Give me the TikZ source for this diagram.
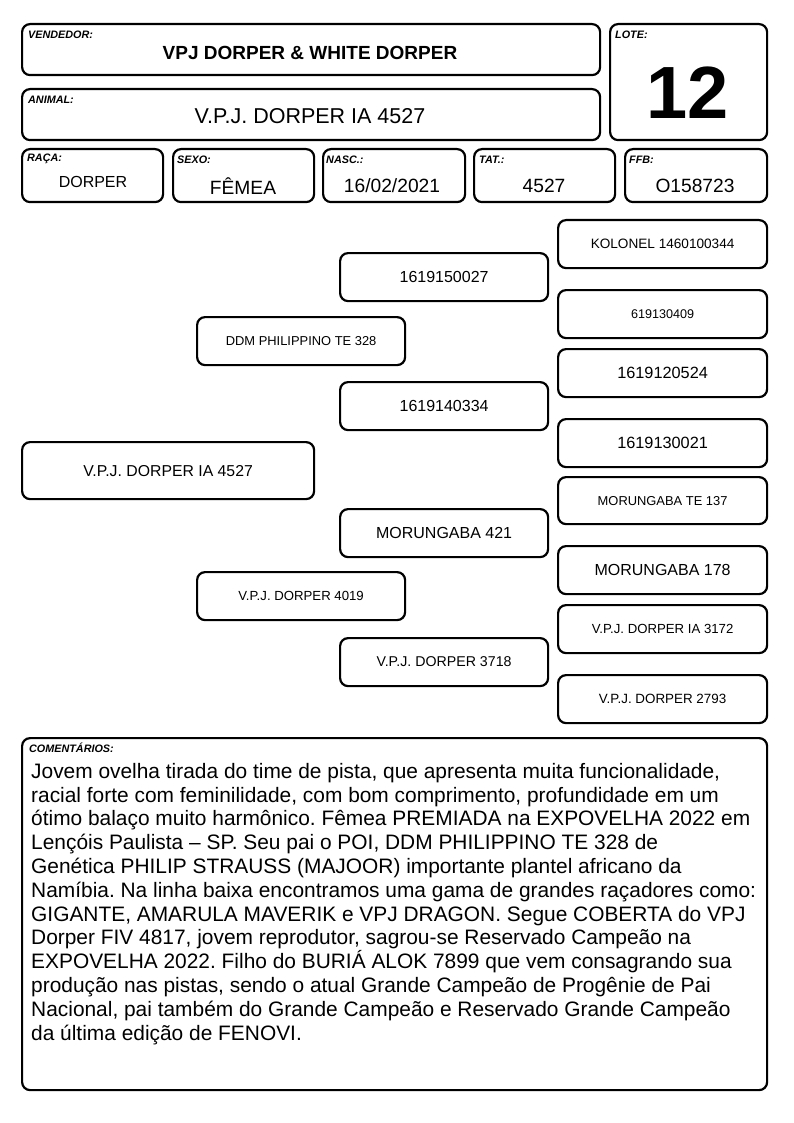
\documentclass[tikz,border=0pt]{standalone}
\usepackage{fontspec}
\setmainfont{Liberation Sans}
\frenchspacing
\begin{document}
\begin{tikzpicture}[x=1pt,y=-1pt,
  frame/.style={draw, line width=2.2pt, rounded corners=8pt, anchor=north west, inner sep=0pt},
  lbl/.style={font=\fontsize{10.8}{12}\selectfont\bfseries\itshape, anchor=west, inner sep=0pt},
  val/.style={font=\fontsize{19.2}{22}\selectfont, inner sep=0pt},
  pbig/.style={font=\fontsize{16}{18}\selectfont, inner sep=0pt},
  psmall/.style={font=\fontsize{13.2}{15}\selectfont, inner sep=0pt}]
\useasboundingbox (0,0) rectangle (794,1123);
\fill[white] (0,0) rectangle (794,1123);
% header
\node[frame, minimum width=578pt, minimum height=51pt] (vend) at (21,23) {};
\node[lbl] (vendl) at (28,35) {VENDEDOR:};
\node[font=\fontsize{19}{21}\selectfont\bfseries, inner sep=0pt] (vendv) at (310,53) {VPJ DORPER \& WHITE DORPER};
\node[frame, minimum width=578pt, minimum height=51pt] (anim) at (21,88) {};
\node[lbl] (animl) at (28,100) {ANIMAL:};
\node[font=\fontsize{21.5}{24}\selectfont, inner sep=0pt] (animv) at (310,116) {V.P.J. DORPER IA 4527};
\node[frame, minimum width=157pt, minimum height=116pt] (lote) at (609,23) {};
\node[lbl] (lotel) at (615,35) {LOTE:};
\node[font=\fontsize{74}{80}\selectfont\bfseries, inner sep=0pt] (lotev) at (688,93) {12};
% fields
\node[frame, minimum width=141pt, minimum height=53pt] (raca) at (21,148) {};
\node[lbl] (racal) at (27,159) {RAÇA:};
\node[val, font=\fontsize{16}{18}\selectfont] (racav) at (93,182) {DORPER};
\node[frame, minimum width=141pt, minimum height=53pt] (sexo) at (172,148) {};
\node[lbl] (sexol) at (177,160) {SEXO:};
\node[val] (sexov) at (243,186) {FÊMEA};
\node[frame, minimum width=142pt, minimum height=53pt] (nasc) at (322,148) {};
\node[lbl] (nascl) at (326,160) {NASC.:};
\node[val] (nascv) at (392,186) {16/02/2021};
\node[frame, minimum width=141pt, minimum height=53pt] (tat) at (473,148) {};
\node[lbl] (tatl) at (479,160) {TAT.:};
\node[val] (tatv) at (544,186) {4527};
\node[frame, minimum width=142pt, minimum height=53pt] (ffb) at (624,148) {};
\node[lbl] (ffbl) at (629,160) {FFB:};
\node[val] (ffbv) at (695,186) {O158723};
% pedigree
\node[frame, minimum width=292pt, minimum height=57pt] (p0) at (21,441) {};
\node[pbig, font=\fontsize{15.8}{18}\selectfont] at (p0.center) {V.P.J. DORPER IA 4527};
\node[frame, minimum width=208pt, minimum height=48pt] (s) at (196,316) {};
\node[psmall, font=\fontsize{12.9}{15}\selectfont] at (s.center) {DDM PHILIPPINO TE 328};
\node[frame, minimum width=208pt, minimum height=48pt] (d) at (196,571) {};
\node[psmall] at (d.center) {V.P.J. DORPER 4019};
\node[frame, minimum width=208pt, minimum height=48pt] (ss) at (339,252) {};
\node[pbig] at (ss.center) {1619150027};
\node[frame, minimum width=208pt, minimum height=48pt] (sd) at (339,381) {};
\node[pbig] at (sd.center) {1619140334};
\node[frame, minimum width=208pt, minimum height=48pt] (ds) at (339,508) {};
\node[pbig] at (ds.center) {MORUNGABA 421};
\node[frame, minimum width=208pt, minimum height=48pt] (dd) at (339,637) {};
\node[psmall, font=\fontsize{14.2}{16}\selectfont] at (dd.center) {V.P.J. DORPER 3718};
\node[frame, minimum width=209pt, minimum height=48pt] (sss) at (557,219) {};
\node[psmall, font=\fontsize{13.6}{15}\selectfont] at (sss.center) {KOLONEL 1460100344};
\node[frame, minimum width=209pt, minimum height=48pt] (ssd) at (557,289) {};
\node[psmall, font=\fontsize{12.6}{15}\selectfont] at (ssd.center) {619130409};
\node[frame, minimum width=209pt, minimum height=48pt] (sds) at (557,348) {};
\node[pbig, font=\fontsize{16.3}{18}\selectfont] at (sds.center) {1619120524};
\node[frame, minimum width=209pt, minimum height=48pt] (sdd) at (557,418) {};
\node[pbig, font=\fontsize{16.3}{18}\selectfont] at (sdd.center) {1619130021};
\node[frame, minimum width=209pt, minimum height=47pt] (dss) at (557,476) {};
\node[psmall, font=\fontsize{12.9}{15}\selectfont] at (dss.center) {MORUNGABA TE 137};
\node[frame, minimum width=209pt, minimum height=48pt] (dsd) at (557,545) {};
\node[pbig] at (dsd.center) {MORUNGABA 178};
\node[frame, minimum width=209pt, minimum height=48pt] (dds) at (557,604) {};
\node[psmall] at (dds.center) {V.P.J. DORPER IA 3172};
\node[frame, minimum width=209pt, minimum height=48pt] (ddd) at (557,674) {};
\node[psmall, font=\fontsize{13.4}{15}\selectfont] at (ddd.center) {V.P.J. DORPER 2793};
% comments
\node[frame, minimum width=745pt, minimum height=352pt] (com) at (21,737) {};
\node[lbl] (coml) at (29,748) {COMENTÁRIOS:};
\node[anchor=north west, inner sep=0pt, align=left, font=\fontsize{20.9}{23.8}\selectfont] (comv) at (31,763) {Jovem ovelha tirada do time de pista, que apresenta muita funcionalidade,\\
racial forte com feminilidade, com bom comprimento, profundidade em um\\
ótimo balaço muito harmônico. Fêmea PREMIADA na EXPOVELHA 2022 em\\
Lençóis Paulista – SP. Seu pai o POI, DDM PHILIPPINO TE 328 de\\
Genética PHILIP STRAUSS (MAJOOR) importante plantel africano da\\
Namíbia. Na linha baixa encontramos uma gama de grandes raçadores como:\\
GIGANTE, AMARULA MAVERIK e VPJ DRAGON. Segue COBERTA do VPJ\\
Dorper FIV 4817, jovem reprodutor, sagrou-se Reservado Campeão na\\
EXPOVELHA 2022. Filho do BURIÁ ALOK 7899 que vem consagrando sua\\
produção nas pistas, sendo o atual Grande Campeão de Progênie de Pai\\
Nacional, pai também do Grande Campeão e Reservado Grande Campeão\\
da última edição de FENOVI.};
\end{tikzpicture}
\end{document}
